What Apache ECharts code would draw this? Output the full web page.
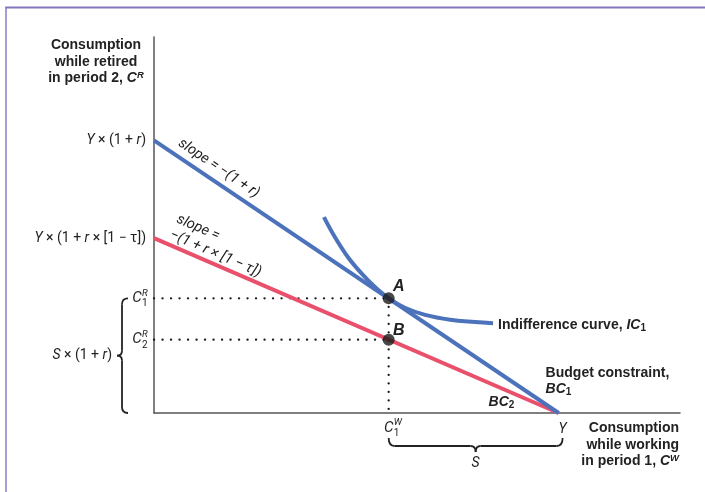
<!DOCTYPE html>
<html><head><meta charset="utf-8">
<script src="https://cdn.jsdelivr.net/npm/echarts@6/dist/echarts.min.js"></script>
<style>html,body{margin:0;padding:0;background:#fff}#c{width:705px;height:492px}</style>
</head><body><div id="c"></div><script>
// ---- data (abstract units) ----
const xMax = 13, yMax = 10;
const incomeY = 10;            // Y on the x-axis
const consumptionW1 = 5.8;     // C1^W
const bc1Intercept = 7.25;     // Y × (1 + r)
const bc2Intercept = 4.65;     // Y × (1 + r × [1 − τ])
const consumptionR1 = 3.05;    // C1^R (point A)
const consumptionR2 = 1.95;    // C2^R (point B)
const bc1 = [[0, bc1Intercept], [incomeY, 0]];
const bc2 = [[0, bc2Intercept], [incomeY, 0]];
const icX = [4.20, 4.47, 4.79, 5.14, 5.46, 5.80, 6.20, 6.70, 7.32, 7.93, 8.38];
const icY = [5.21, 4.68, 4.15, 3.70, 3.35, 3.05, 2.80, 2.61, 2.48, 2.42, 2.39];
const points = [[consumptionW1, consumptionR1], [consumptionW1, consumptionR2]];

// ---- style ----
const BLUE = '#4b72bb', RED = '#e9506c', INK = '#1a1a1a', TXT = '#222';
const LIGHT = "Roboto, 'Liberation Sans', sans-serif";
const BOLD = "'Liberation Sans Narrow', 'Arial Narrow', 'Liberation Sans', sans-serif";
function f(size, weight, style, family) { return {fontSize: size, fontWeight: weight || 'normal', fontStyle: style || 'normal', fontFamily: family || LIGHT, fill: TXT, color: TXT}; }
const richLight = {n: f(14, 'normal'), i: f(14, 'normal', 'italic')};
const richBold = {
  b: Object.assign(f(14, 'bold', 'normal', BOLD), {lineHeight: 16.5}),
  bi: Object.assign(f(14, 'bold', 'italic', BOLD), {lineHeight: 16.5}),
  sup: Object.assign(f(9.5, 'bold', 'italic', BOLD), {verticalAlign: 'top', lineHeight: 16.5}),
  sub: Object.assign(f(10, 'bold', 'normal', BOLD), {verticalAlign: 'bottom', lineHeight: 16.5})
};

const axisCommon = {
  type: 'value', min: 0,
  axisLine: {show: true, onZero: false, lineStyle: {color: '#555', width: 1.5}},
  axisTick: {show: false}, axisLabel: {show: false}, splitLine: {show: false}
};
const dotted = {color: INK, width: 2.3, type: [0.1, 8.4], cap: 'round'};
const option = {
  animation: false,
  grid: {left: 154, right: 25, top: 37, bottom: 79},
  xAxis: Object.assign({max: xMax}, axisCommon),
  yAxis: Object.assign({max: yMax}, axisCommon),
  series: [
    {type: 'line', data: [[0, consumptionR1], [consumptionW1, consumptionR1]], symbol: 'none', lineStyle: dotted, z: 1},
    {type: 'line', data: [[0, consumptionR2], [consumptionW1, consumptionR2]], symbol: 'none', lineStyle: dotted, z: 1},
    {type: 'line', data: [[consumptionW1, consumptionR1], [consumptionW1, 0]], symbol: 'none', lineStyle: dotted, z: 1},
    {type: 'line', data: bc2, symbol: 'none', lineStyle: {color: RED, width: 4}, z: 2},
    {type: 'line', data: bc1, symbol: 'none', lineStyle: {color: BLUE, width: 4}, z: 3},
    {type: 'line', data: icX.map((x, i) => [x, icY[i]]), smooth: 0.4, symbol: 'none', lineStyle: {color: BLUE, width: 4}, z: 3},
    {type: 'scatter', data: points, symbolSize: 12, itemStyle: {color: INK}, z: 5}
  ]
};
const chart = echarts.init(document.getElementById('c'));
chart.setOption(option);
const P = (x, y) => chart.convertToPixel({gridIndex: 0}, [x, y]);

function txt(x, y, text, rich, align, valign) {
  return {type: 'text', x: x, y: y, z: 100,
    style: {text: text, rich: rich, align: align, textAlign: align, verticalAlign: valign || 'middle', textVerticalAlign: valign || 'middle',
      font: "14px " + LIGHT, fill: TXT}};
}
function cSupSub(cx, cy, sup, sub) {
  return [
    txt(cx, cy, '{i|C}', {i: f(15, 'normal', 'italic')}, 'center'),
    txt(cx + 5, cy - 5, '{i|' + sup + '}', {i: f(9.5, 'normal', 'italic')}, 'left'),
    txt(cx + 5, cy + 5.5, '{n|' + sub + '}', {n: f(10, 'normal')}, 'left')
  ];
}
const BR = {stroke: '#222', lineWidth: 1.8, fill: null};
function seg(x1, y1, x2, y2) { return {type: 'line', z: 100, shape: {x1, y1, x2, y2}, style: BR}; }
function qc(x1, y1, cx, cy, x2, y2) { return {type: 'bezierCurve', z: 100, shape: {x1, y1, cpx1: cx, cpy1: cy, x2, y2}, style: BR}; }

const g = [];
// frame
g.push({type: 'line', shape: {x1: 6, y1: 492, x2: 6, y2: 7.5}, style: {stroke: '#9283c6', lineWidth: 1.6}, z: 100});
g.push({type: 'line', shape: {x1: 5.2, y1: 7.5, x2: 705, y2: 7.5}, style: {stroke: '#8676bd', lineWidth: 2}, z: 100});

const o = P(0, 0);
const pA = P(consumptionW1, consumptionR1), pB = P(consumptionW1, consumptionR2);
const pY = P(incomeY, 0);

// axis titles
g.push(txt(96, 62, '{b|Consumption}\n{b|while retired}\n{b|in period 2, }{bi|C}{sup|R}', richBold, 'center'));
g.push(txt(679, 445, '{b|Consumption}\n{b|while working}\n{b|in period 1, }{bi|C}{sup|W}', richBold, 'right'));

// y tick labels
const p1 = P(0, bc1Intercept), p2 = P(0, bc2Intercept);
g.push(txt(o[0] - 8, p1[1], '{i|Y}{n| × (1 + }{i|r}{n|)}', richLight, 'right'));
g.push(txt(o[0] - 8, p2[1], '{i|Y}{n| × (1 + }{i|r}{n| × [1 − τ])}', richLight, 'right'));
cSupSub(o[0] - 17, pA[1], 'R', '1').forEach(e => g.push(e));
cSupSub(o[0] - 17, pB[1], 'R', '2').forEach(e => g.push(e));

// left brace S × (1 + r)
const bx = o[0] - 32, yt = pA[1], yb = o[1], ym = (yt + yb) / 2;
g.push(qc(bx + 6, yt, bx, yt, bx, yt + 6), seg(bx, yt + 6, bx, ym - 5), qc(bx, ym - 5, bx, ym, bx - 5, ym),
       qc(bx - 5, ym, bx, ym, bx, ym + 5), seg(bx, ym + 5, bx, yb - 6), qc(bx, yb - 6, bx, yb, bx + 6, yb));
g.push(txt(bx - 10, ym, '{i|S}{n| × (1 + }{i|r}{n|)}', richLight, 'right'));

// x labels
cSupSub(pA[0], o[1] + 15, 'W', '1').forEach(e => g.push(e));
g.push(txt(pY[0] + 4, o[1] + 16, '{i|Y}', richLight, 'center'));
// bottom brace S
const by = o[1] + 33, bl = pA[0], br = pY[0] + 4, bm = (bl + br) / 2;
g.push(qc(bl, by - 8, bl, by, bl + 6, by), seg(bl + 6, by, bm - 5, by), qc(bm - 5, by, bm, by, bm, by + 6),
       qc(bm, by + 6, bm, by, bm + 5, by), seg(bm + 5, by, br - 6, by), qc(br - 6, by, br, by, br, by - 8));
g.push(txt(bm, o[1] + 50, '{i|S}', richLight, 'center'));

// rotated slope labels
function slopeLabel(line, atX, offset, lines) {
  const a = P(line[0][0], line[0][1]), b = P(line[1][0], line[1][1]);
  const ang = Math.atan2(b[1] - a[1], b[0] - a[0]);
  const pt = P(atX, line[0][1] + (line[1][1] - line[0][1]) * (atX - line[0][0]) / (line[1][0] - line[0][0]));
  const cx = pt[0] + offset * Math.sin(ang), cy = pt[1] - offset * Math.cos(ang);
  return {type: 'group', x: cx, y: cy, rotation: -ang, z: 100, children: lines};
}
const rI = {n: f(14.5, 'normal', 'italic'), i: f(14.5, 'normal', 'italic')};
g.push(slopeLabel(bc1, 1.42, 13, [txt(0, 0, '{n|slope = −(1 + }{i|r}{n|)}', rI, 'center')]));
g.push(slopeLabel(bc2, 1.58, 10, [
  txt(-56, -17, '{n|slope =}', rI, 'left'),
  txt(-56, 0, '{n|−(1 + }{i|r}{n| × [1 − τ])}', rI, 'left')
]));

// point labels
const rAB = {b: f(16, 'bold', 'italic', BOLD)};
g.push(txt(pA[0] + 10, pA[1] - 12, '{b|A}', rAB, 'center'));
g.push(txt(pB[0] + 10, pB[1] - 9, '{b|B}', rAB, 'center'));

// curve labels
const pEnd = P(icX[icX.length - 1], icY[icY.length - 1]);
g.push(txt(pEnd[0] + 5, pEnd[1] + 2, '{b|Indifference curve, }{bi|IC}{sub|1}', richBold, 'left'));
g.push(txt(pY[0] - 13, pY[1] - 32, '{b|Budget constraint,}\n{bi|BC}{sub|1}', richBold, 'left'));
g.push(txt(pY[0] - 70, pY[1] - 11, '{bi|BC}{sub|2}', richBold, 'left'));

chart.setOption({graphic: {elements: g}});
</script></body></html>
